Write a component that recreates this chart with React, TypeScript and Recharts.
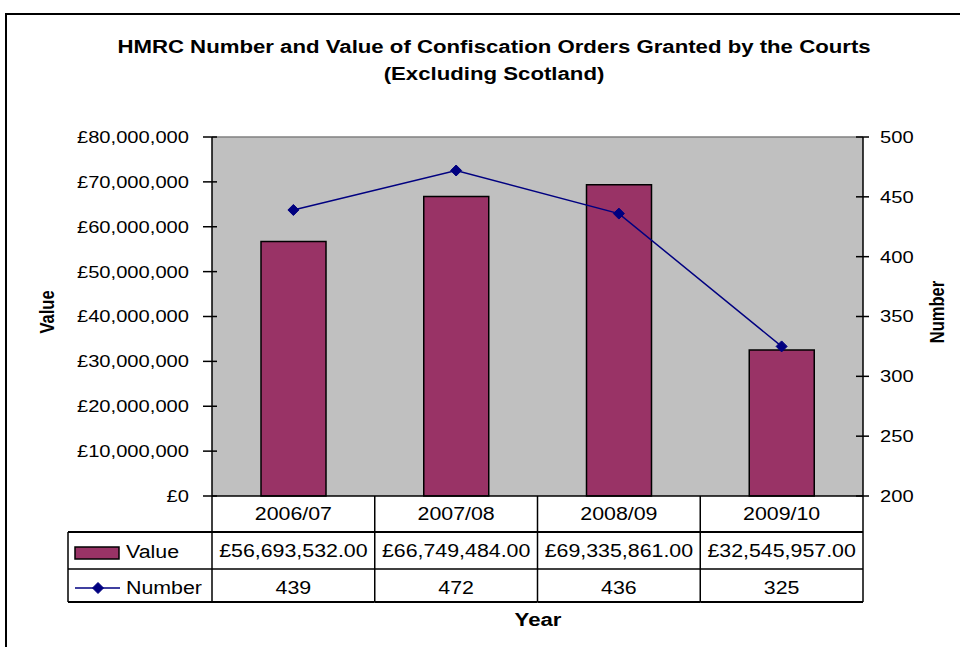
import React from 'react';
import { ComposedChart, Bar, Line, XAxis, YAxis, CartesianGrid, ReferenceLine } from 'recharts';

const categories = ['2006/07', '2007/08', '2008/09', '2009/10'];
const valueSeries = [56693532.0, 66749484.0, 69335861.0, 32545957.0];
const numberSeries = [439, 472, 436, 325];
const valueLabels = ['£56,693,532.00', '£66,749,484.00', '£69,335,861.00', '£32,545,957.00'];
const leftTicks = [0, 10000000, 20000000, 30000000, 40000000, 50000000, 60000000, 70000000, 80000000];
const rightTicks = [200, 250, 300, 350, 400, 450, 500];

const data = categories.map((c, i) => ({ year: c, value: valueSeries[i], number: numberSeries[i] }));

const W = 960;
const H = 647;
const PLOT_L = 212;
const PLOT_R = 863;
const COL_W = (PLOT_R - PLOT_L) / categories.length;
const FONT = '"Liberation Sans", Arial, sans-serif';
const SX = 1.2;
const BAR_COLOR = '#993366';
const LINE_COLOR = '#000080';

function SText(props: any) {
  const { x, y, size, bold, anchor = 'middle', rotate, children, sx = SX } = props;
  const t = `translate(${x},${y}) scale(${sx},1)` + (rotate ? ` rotate(${rotate})` : '');
  return (
    <text
      transform={t}
      x={0}
      y={0}
      textAnchor={anchor}
      dominantBaseline="central"
      fontSize={size}
      fontWeight={bold ? 'bold' : 'normal'}
      fontFamily={FONT}
      fill="#000"
    >
      {children}
    </text>
  );
}

const fmtMoney = (v: number) => '£' + v.toLocaleString('en-GB');

function LeftTick(props: any) {
  const { x, y, payload } = props;
  return (
    <g>
      <line x1={x - 9} x2={x + 5} y1={y} y2={y} stroke="#000" strokeWidth={1.5} />
      <SText x={x - 23} y={y} size={16.8} anchor="end">{fmtMoney(payload.value)}</SText>
    </g>
  );
}

function RightTick(props: any) {
  const { x, y, payload } = props;
  return (
    <g>
      <line x1={x - 7} x2={x + 6} y1={y} y2={y} stroke="#000" strokeWidth={1.5} />
      <SText x={x + 17} y={y} size={16.8} anchor="start">{String(payload.value)}</SText>
    </g>
  );
}

function Diamond(props: any) {
  const { cx, cy } = props;
  if (cx == null || cy == null) return null;
  const r = 5.5;
  return <polygon points={`${cx},${cy - r} ${cx + r},${cy} ${cx},${cy + r} ${cx - r},${cy}`} fill={LINE_COLOR} stroke={LINE_COLOR} />;
}

function TableTick(props: any) {
  const { x, y, index } = props;
  const top = y;
  const r1 = top + 36;
  const r2 = top + 73;
  const r3 = top + 106;
  const left = x - COL_W / 2;
  const right = x + COL_W / 2;
  const legL = left - 144;
  const ln = { stroke: '#000', strokeWidth: 1.5 };
  return (
    <g>
      <SText x={x} y={top + 18} size={17.8}>{categories[index]}</SText>
      <SText x={x} y={top + 55} size={17.8}>{valueLabels[index]}</SText>
      <SText x={x} y={top + 92} size={17.8}>{String(numberSeries[index])}</SText>
      <line x1={right} x2={right} y1={top} y2={r3} {...ln} />
      <line x1={left} x2={right} y1={r1} y2={r1} {...ln} strokeWidth={2} />
      <line x1={left} x2={right} y1={r2} y2={r2} {...ln} />
      <line x1={left} x2={right} y1={r3} y2={r3} {...ln} strokeWidth={2} />
      {index === 0 && (
        <g>
          <line x1={left} x2={left} y1={top} y2={r3} {...ln} />
          <line x1={legL} x2={left} y1={r1} y2={r1} {...ln} strokeWidth={2} />
          <line x1={legL} x2={left} y1={r2} y2={r2} {...ln} />
          <line x1={legL} x2={left} y1={r3} y2={r3} {...ln} strokeWidth={2} />
          <line x1={legL} x2={legL} y1={r1} y2={r3} {...ln} />
          <rect x={legL + 7} y={r1 + 15} width={44} height={12} fill={BAR_COLOR} stroke="#000" strokeWidth={1.5} />
          <SText x={legL + 58} y={r1 + 20} size={17.8} anchor="start">Value</SText>
          <line x1={legL + 7} x2={legL + 52} y1={r2 + 19} y2={r2 + 19} stroke={LINE_COLOR} strokeWidth={1.5} />
          <Diamond cx={legL + 30} cy={r2 + 19} />
          <SText x={legL + 58} y={r2 + 19} size={17.8} anchor="start">Number</SText>
        </g>
      )}
    </g>
  );
}

export default function App() {
  return (
    <div style={{ position: 'absolute', left: 0, top: 0, width: W, height: H, overflow: 'hidden', background: '#fff' }}>
      <ComposedChart
        width={W}
        height={H}
        data={data}
        margin={{ top: 137, right: 37, bottom: 41, left: 132 }}
      >
        <CartesianGrid fill="#C0C0C0" fillOpacity={1} stroke="none" horizontal={false} vertical={false} yAxisId="left" />
        <XAxis
          dataKey="year"
          height={110}
          interval={0}
          tickSize={0}
          tickMargin={0}
          tickLine={false}
          axisLine={{ stroke: '#000', strokeWidth: 1.5 }}
          tick={<TableTick />}
        />
        <YAxis
          yAxisId="left"
          orientation="left"
          width={80}
          domain={[0, 80000000]}
          ticks={leftTicks}
          interval={0}
          tickSize={0}
          tickMargin={0}
          tickLine={false}
          axisLine={{ stroke: '#000', strokeWidth: 1.5 }}
          tick={<LeftTick />}
        />
        <YAxis
          yAxisId="right"
          orientation="right"
          width={60}
          domain={[200, 500]}
          ticks={rightTicks}
          interval={0}
          tickSize={0}
          tickMargin={0}
          tickLine={false}
          axisLine={{ stroke: '#000', strokeWidth: 1.5 }}
          tick={<RightTick />}
        />
        <ReferenceLine yAxisId="left" y={80000000} stroke="#808080" strokeWidth={1.5} />
        <Bar yAxisId="left" dataKey="value" fill={BAR_COLOR} stroke="#000" strokeWidth={1.5} barSize={65} isAnimationActive={false} />
        <Line yAxisId="right" dataKey="number" stroke={LINE_COLOR} strokeWidth={1.5} dot={<Diamond />} activeDot={false} isAnimationActive={false} />
      </ComposedChart>
      <svg width={W} height={H} style={{ position: 'absolute', left: 0, top: 0, pointerEvents: 'none' }}>
        <rect x={6} y={14} width={1000} height={800} fill="none" stroke="#000" strokeWidth={2} />
        <SText x={494} y={47} size={18.5} bold>HMRC Number and Value of Confiscation Orders Granted by the Courts</SText>
        <SText x={494} y={74} size={18.5} bold>(Excluding Scotland)</SText>
        <SText x={47} y={312} size={16.5} bold rotate={-90}>Value</SText>
        <SText x={937} y={312} size={16.5} bold rotate={-90}>Number</SText>
        <SText x={538} y={620} size={18.5} bold>Year</SText>
      </svg>
    </div>
  );
}
